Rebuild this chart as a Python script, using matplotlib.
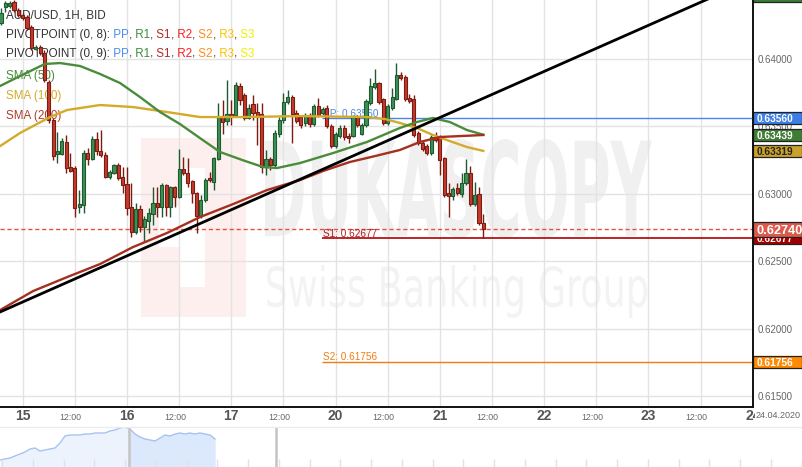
import numpy as np
import matplotlib
matplotlib.use("Agg")
import matplotlib.pyplot as plt
from matplotlib.transforms import Affine2D, blended_transform_factory
from matplotlib.patches import Rectangle, PathPatch
from matplotlib.textpath import TextPath
from matplotlib.font_manager import FontProperties

FONT = ["Liberation Sans", "DejaVu Sans"]
plt.rcParams["font.family"] = FONT

# ---------------- data (hours counted from 15.04 00:00, weekend removed) ----------------
hours = list(range(-5, 107))
opens = [0.64267, 0.64385, 0.64393, 0.64422, 0.64363, 0.64326, 0.64311, 0.64237, 0.64074, 0.64089,
         0.64044, 0.63829, 0.63548, 0.63296, 0.63296, 0.63385, 0.63200, 0.63192, 0.62903, 0.62918,
         0.63303, 0.63259, 0.63407, 0.63318, 0.63289, 0.63126, 0.63155, 0.63214, 0.63126, 0.63074,
         0.62903, 0.62718, 0.62888, 0.62755, 0.62799, 0.62851, 0.62933, 0.62903, 0.63066, 0.62903,
         0.63051, 0.62977, 0.63185, 0.63155, 0.63096, 0.63007, 0.62837, 0.62955, 0.63118, 0.63088,
         0.63259, 0.63577, 0.63540, 0.63592, 0.63585, 0.63800, 0.63733, 0.63563, 0.63666, 0.63607,
         0.63592, 0.63200, 0.63259, 0.63214, 0.63444, 0.63548, 0.63681, 0.63718, 0.63600, 0.63570,
         0.63526, 0.63585, 0.63518, 0.63652, 0.63600, 0.63637, 0.63503, 0.63355, 0.63429, 0.63489,
         0.63429, 0.63429, 0.63570, 0.63444, 0.63511, 0.63674, 0.63792, 0.63822, 0.63703, 0.63526,
         0.63637, 0.63703, 0.63881, 0.63866, 0.63711, 0.63703, 0.63452, 0.63377, 0.63355, 0.63303,
         0.63422, 0.63422, 0.63266, 0.63007, 0.62985, 0.63044, 0.62999, 0.63081, 0.63155, 0.62925,
         0.62999, 0.62785]
highs = [0.64378, 0.64430, 0.64430, 0.64437, 0.64378, 0.64341, 0.64326, 0.64252, 0.64104, 0.64104,
         0.64067, 0.63844, 0.63563, 0.63459, 0.63414, 0.63437, 0.63303, 0.63207, 0.63029, 0.63326,
         0.63340, 0.63429, 0.63459, 0.63474, 0.63311, 0.63177, 0.63222, 0.63229, 0.63200, 0.63200,
         0.63081, 0.62933, 0.62918, 0.62837, 0.62896, 0.63051, 0.63051, 0.63081, 0.63074, 0.63059,
         0.63059, 0.63333, 0.63274, 0.63266, 0.63103, 0.63014, 0.62992, 0.63118, 0.63162, 0.63274,
         0.63674, 0.63696, 0.63844, 0.63696, 0.63829, 0.63822, 0.63748, 0.63666, 0.63733, 0.63674,
         0.63674, 0.63326, 0.63274, 0.63474, 0.63570, 0.63748, 0.63770, 0.63733, 0.63622, 0.63585,
         0.63600, 0.63600, 0.63666, 0.63711, 0.63644, 0.63659, 0.63518, 0.63459, 0.63511, 0.63511,
         0.63452, 0.63585, 0.63585, 0.63526, 0.63703, 0.63859, 0.63926, 0.63829, 0.63711, 0.63666,
         0.63785, 0.63970, 0.63903, 0.63881, 0.63740, 0.63733, 0.63466, 0.63392, 0.63370, 0.63437,
         0.63459, 0.63437, 0.63274, 0.63081, 0.63051, 0.63081, 0.63155, 0.63259, 0.63207, 0.63088,
         0.63051, 0.62851]
lows = [0.64252, 0.64348, 0.64378, 0.64348, 0.64311, 0.64289, 0.64215, 0.64067, 0.64067, 0.64029,
        0.63829, 0.63526, 0.63251, 0.63229, 0.63289, 0.63155, 0.63162, 0.62829, 0.62859, 0.62859,
        0.63214, 0.63251, 0.63289, 0.63274, 0.63118, 0.63111, 0.63148, 0.63103, 0.63007, 0.62844,
        0.62681, 0.62703, 0.62718, 0.62644, 0.62711, 0.62770, 0.62829, 0.62829, 0.62837, 0.62829,
        0.62903, 0.62970, 0.63140, 0.63051, 0.62933, 0.62711, 0.62822, 0.62940, 0.63088, 0.63029,
        0.63251, 0.63444, 0.63511, 0.63511, 0.63577, 0.63659, 0.63548, 0.63555, 0.63548, 0.63363,
        0.63155, 0.63140, 0.63177, 0.63200, 0.63422, 0.63526, 0.63666, 0.63377, 0.63526, 0.63489,
        0.63503, 0.63496, 0.63503, 0.63570, 0.63585, 0.63489, 0.63340, 0.63340, 0.63414, 0.63400,
        0.63377, 0.63422, 0.63496, 0.63437, 0.63496, 0.63659, 0.63778, 0.63666, 0.63511, 0.63511,
        0.63622, 0.63696, 0.63844, 0.63689, 0.63674, 0.63422, 0.63363, 0.63318, 0.63289, 0.63289,
        0.63385, 0.63140, 0.62977, 0.62829, 0.62955, 0.62992, 0.62977, 0.63066, 0.62911, 0.62911,
        0.62770, 0.62674]
closes = [0.64341, 0.64415, 0.64415, 0.64363, 0.64326, 0.64304, 0.64230, 0.64081, 0.64089, 0.64044,
          0.63844, 0.63548, 0.63281, 0.63318, 0.63392, 0.63192, 0.63170, 0.62896, 0.62925, 0.63303,
          0.63259, 0.63407, 0.63318, 0.63289, 0.63126, 0.63162, 0.63214, 0.63118, 0.63066, 0.62896,
          0.62718, 0.62888, 0.62755, 0.62814, 0.62859, 0.62933, 0.62903, 0.63066, 0.62903, 0.63051,
          0.62977, 0.63185, 0.63155, 0.63081, 0.63007, 0.62837, 0.62955, 0.63103, 0.63103, 0.63266,
          0.63570, 0.63533, 0.63592, 0.63570, 0.63807, 0.63696, 0.63563, 0.63637, 0.63600, 0.63570,
          0.63200, 0.63259, 0.63214, 0.63452, 0.63548, 0.63681, 0.63718, 0.63592, 0.63540, 0.63511,
          0.63585, 0.63518, 0.63652, 0.63585, 0.63629, 0.63503, 0.63355, 0.63444, 0.63489, 0.63422,
          0.63414, 0.63570, 0.63511, 0.63511, 0.63689, 0.63800, 0.63822, 0.63681, 0.63526, 0.63652,
          0.63718, 0.63881, 0.63859, 0.63703, 0.63689, 0.63437, 0.63377, 0.63333, 0.63303, 0.63422,
          0.63400, 0.63251, 0.62992, 0.62985, 0.63036, 0.63007, 0.63081, 0.63155, 0.62925, 0.62992,
          0.62785, 0.62740]

sma50_h = [-5.2, -0.6, 5.1, 8.6, 13.2, 17.8, 22.4, 27.0, 31.6, 36.2, 40.8, 45.4, 51.2, 55.3,
           58.5, 63.8, 71.4, 79.2, 86.8, 90.7, 94.4, 98.3, 102.2, 106]
sma50 = [0.63800, 0.63874, 0.63963, 0.63970, 0.63948, 0.63889, 0.63822, 0.63718, 0.63607, 0.63518,
         0.63414, 0.63311, 0.63244, 0.63200, 0.63192, 0.63229, 0.63303, 0.63385, 0.63489, 0.63533,
         0.63563, 0.63533, 0.63474, 0.63439]
sma100_h = [-5.2, -0.6, 6.3, 10.2, 17.8, 25.4, 33.2, 40.8, 51.2, 63.8, 79.2, 83.4, 86.8, 90.7,
            94.4, 98.3, 102.2, 106]
sma100 = [0.63355, 0.63452, 0.63570, 0.63622, 0.63659, 0.63644, 0.63607, 0.63570, 0.63570, 0.63577,
          0.63570, 0.63555, 0.63526, 0.63489, 0.63437, 0.63392, 0.63348, 0.63319]
sma200_h = [-5.2, 2.4, 10.2, 17.8, 25.4, 33.2, 40.8, 48.4, 56.2, 63.8, 69.1, 75.3, 81.1, 86.8,
            91.4, 96.0, 106]
sma200 = [0.62140, 0.62281, 0.62384, 0.62481, 0.62607, 0.62711, 0.62829, 0.62925, 0.63029, 0.63103,
          0.63170, 0.63237, 0.63281, 0.63326, 0.63385, 0.63422, 0.63437]

trend_h = [-5.2, 160.4]
trend_p = [0.62126, 0.64483]

pivot_start = 68.9
pp_level, s1_level, s2_level, r1_level = 0.63560, 0.62677, 0.61756, 0.64465
last_price = 0.62740

y_ticks = [0.615, 0.620, 0.625, 0.630, 0.635, 0.640]
day_labels = ["15", "16", "17", "20", "21", "22", "23", "24"]

nav_vals = [7, 8, 9, 11, 13, 15, 18, 19, 16, 17, 18, 19, 24, 31, 32, 32, 32, 33, 33, 34, 34, 34,
            36, 37, 39, 40, 38, 33, 30, 28, 27, 26, 29, 32, 31, 33, 34, 33, 34, 33, 34, 33, 32, 28]

# ---------------- figure ----------------
W, H = 803, 467
fig = plt.figure(figsize=(W / 100, H / 100), dpi=100)
fig.patch.set_facecolor("white")
PIX = Affine2D().scale(1.0 / W, -1.0 / H).translate(0, 1) + fig.transFigure

ax = fig.add_axes([0, 1 - 407 / H, 753 / W, 407 / H])
ax.set_xlim(-5.22, 168.05)
ax.set_ylim(0.61422, 0.64437)
for s in ["top", "left"]:
    ax.spines[s].set_visible(False)
for s in ["right", "bottom"]:
    ax.spines[s].set_color("#111111")
    ax.spines[s].set_linewidth(1.4)
    ax.spines[s].set_zorder(20)
ax.set_xticks(np.arange(0, 169, 12))
ax.set_yticks(y_ticks)
ax.tick_params(length=0, labelbottom=False, labelleft=False)
ax.grid(True, color="#e3e3e3", lw=1)
ax.set_axisbelow(True)

# watermark
logo = "#fcefee"
ax.add_patch(Rectangle((140.7, 138), 105.3, 179, transform=PIX, facecolor=logo, edgecolor="none", zorder=0.1, clip_on=False))
ax.add_patch(Rectangle((179, 168), 26, 119, transform=PIX, facecolor="white", edgecolor="none", zorder=0.15, clip_on=False))
ax.add_patch(Rectangle((159, 206), 46, 41, transform=PIX, facecolor="white", edgecolor="none", zorder=0.15, clip_on=False))


def fit_text(s, x0, y0, x1, y1, weight, color, family, z=0.2):
    tp = TextPath((0, 0), s, size=100, prop=FontProperties(family=family, weight=weight))
    e = tp.get_extents()
    tr = (Affine2D().translate(-e.x0, -e.y0).scale((x1 - x0) / e.width, (y1 - y0) / e.height)
          .translate(x0, H - y1).scale(1.0 / W, 1.0 / H) + fig.transFigure)
    ax.add_patch(PathPatch(tp, transform=tr, facecolor=color, edgecolor="none", zorder=z, clip_on=False))


fit_text("DUKASCOPY", 265, 139, 652, 238, "bold", "#f0f0f0", "DejaVu Sans")
fit_text("Swiss Banking Group", 267, 265, 647, 318, "normal", "#f3f3f3", "DejaVu Sans")

# candles
x = np.array(hours, dtype=float)
o, hi, lo, c = map(np.array, (opens, highs, lows, closes))
up = c >= o
fill = np.where(up, "#3f8f56", "#c63a2c")
edge = np.where(up, "#1d5a30", "#7a1c12")
ax.vlines(x, lo, hi, colors=edge, lw=1.0, zorder=3)
ax.bar(x, np.maximum(np.abs(c - o), 0.00002), bottom=np.minimum(o, c), width=0.72,
       color=fill, edgecolor=edge, linewidth=0.8, zorder=4)

# indicators
ax.plot(sma100_h, sma100, color="#d4aa2a", lw=1.7, zorder=5)
ax.plot(sma50_h, sma50, color="#4a8c3a", lw=1.7, zorder=5)
ax.plot(sma200_h, sma200, color="#a5301f", lw=1.7, zorder=5)
ax.plot(trend_h, trend_p, color="black", lw=2.0, zorder=6)

# pivot levels
ax.hlines(pp_level, pivot_start, 168.05, color="#4a86e8", lw=1.0, zorder=2.5)
ax.hlines(s1_level, pivot_start, 168.05, color="#b00000", lw=1.2, zorder=2.5)
ax.hlines(s2_level, pivot_start, 168.05, color="#f07d10", lw=1.0, zorder=2.5)
ax.hlines(r1_level, pivot_start, 168.05, color="#3a7d34", lw=1.0, zorder=2.5)
ax.axhline(last_price, color="#e8503f", lw=1.0, ls=(0, (3, 2)), zorder=2.6)
px = 1 / 13500
ax.text(pivot_start + 0.2, pp_level + 1.5 * px, f"PP: {pp_level:.5f}", color="#4a86e8", fontsize=7.2, va="baseline", zorder=2.7)
ax.text(pivot_start + 0.2, s1_level + 1.0 * px, f"S1: {s1_level:.5f}", color="#b02020", fontsize=7.2, va="baseline", zorder=2.7)
ax.text(pivot_start + 0.2, s2_level + 1.5 * px, f"S2: {s2_level:.5f}", color="#f07d10", fontsize=7.2, va="baseline", zorder=2.7)

# right axis labels
bt = blended_transform_factory(ax.transAxes, ax.transData)
for t in y_ticks:
    ax.text(1 + 5 / 753, t, f"{t:.5f}", transform=bt, fontsize=7, color="#666666",
            va="center_baseline", ha="left", zorder=8, clip_on=False)


def price_box(p, txt, face, tc, hpx=12, fs=7.3, z=10):
    hh = hpx * px
    ax.add_patch(Rectangle((1.0, p - hh / 2), 49 / 753, hh, transform=bt, facecolor=face,
                           edgecolor="#222222", lw=0.9, clip_on=False, zorder=z))
    ax.text(1.0 + 4 / 753, p, txt, transform=bt, color=tc, fontsize=fs, fontweight="bold",
            va="center_baseline", ha="left", zorder=z + 0.1, clip_on=False)


price_box(r1_level, f"{r1_level:.5f}", "#3a7d34", "white", z=10)
price_box(pp_level, f"{pp_level:.5f}", "#3b7fe6", "white", z=10)
price_box(sma50[-1], f"{sma50[-1]:.5f}", "#3f7d35", "white", z=11)
price_box(sma100[-1], f"{sma100[-1]:.5f}", "#c9a22c", "#222222", z=11)
price_box(s1_level, f"{s1_level:.5f}", "#a00000", "white", z=12)
price_box(last_price, f"{last_price:.5f}", "#dc5a4c", "white", hpx=15, fs=9.2, z=13)
price_box(s2_level, f"{s2_level:.5f}", "#ff8a00", "white", z=10)

# x labels
xt = blended_transform_factory(ax.transData, PIX)
for i, lab in enumerate(day_labels):
    ax.text(i * 24, 416, lab, transform=xt, ha="center", va="center", fontsize=10,
            fontweight="bold", color="#555555", clip_on=False, zorder=8)
for i in range(7):
    ax.text(i * 24 + 11, 417, "12:00", transform=xt, ha="center", va="center", fontsize=6.3,
            color="#666666", clip_on=False, zorder=8)
ax.text(756, 416, "24.04.2020", transform=PIX, ha="left", va="center", fontsize=6.5, color="#666666",
        zorder=9, clip_on=False, bbox=dict(facecolor="white", edgecolor="none", pad=1.0))

# legend
fig.canvas.draw()
rend = fig.canvas.get_renderer()


def multi(parts, x0, y0, fs=8.4):
    xx = x0
    for s, col in parts:
        t = ax.text(xx, y0, s, transform=PIX, color=col, fontsize=fs, va="center", ha="left",
                    zorder=2, clip_on=False)
        xx += t.get_window_extent(renderer=rend).width


g = "#333333"
multi([("AUD/USD, 1H, BID", g)], 6, 16)
for k, y0 in ((8, 35), (9, 54)):
    multi([(f"PIVOTPOINT (0, {k}):", g), (" PP", "#4a8cf0"), (",", g), (" R1", "#3d8b3d"), (",", g),
           (" S1", "#b22a2a"), (",", g), (" R2", "#ff2020"), (",", g), (" S2", "#ff8c1a"), (",", g),
           (" R3", "#ffc000"), (",", g), (" S3", "#f2ee00")], 6, y0)
multi([("SMA (50)", "#4a8c3a")], 6, 76)
multi([("SMA (100)", "#d4aa2a")], 6, 96)
multi([("SMA (200)", "#b03a2a")], 6, 116)

# navigator
nav = fig.add_axes([0, 0, 1, 40 / H])
nav.set_xlim(0, W / 5)
nav.set_ylim(0, 40)
nav.axis("off")
ni = np.arange(len(nav_vals))
nv = np.array(nav_vals)
nav.fill_between(ni, 0, nv, color="#edf3fd", lw=0)
sel = ni >= 25
nav.fill_between(np.r_[25.8, ni[sel]], 0, np.r_[39.5, nv[sel]], color="#dce8fb", lw=0)
nav.plot(ni, nv, color="#a6c2f2", lw=1)
nav.vlines(np.arange(0.4, W / 5, 6.15), 0, 8, color="#e2e2e2", lw=1)
nav.vlines([25.8, 55.2], 0, 40, color="#c4c4c4", lw=1.8)
fig.add_artist(plt.Line2D([0, 1], [40 / H, 40 / H], color="#ececec", lw=1))

fig.savefig("out.png", dpi=100, facecolor="white")
